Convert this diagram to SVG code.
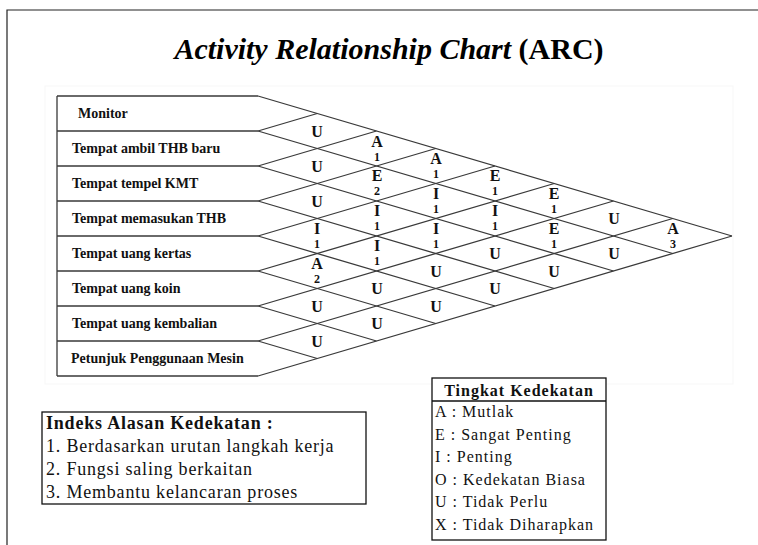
<svg xmlns="http://www.w3.org/2000/svg" width="758" height="545" viewBox="0 0 758 545">
<style>
.frame{stroke:#222;stroke-width:1.2;fill:none}
.ln{stroke:#3a3a3a;stroke-width:1.3;fill:none}
.lbl{font-family:"Liberation Serif",serif;font-weight:bold;font-size:14px;fill:#111}
.rl{font-family:"Liberation Serif",serif;font-weight:bold;font-size:16px;fill:#111;text-anchor:middle}
.rn{font-family:"Liberation Serif",serif;font-weight:bold;font-size:12px;fill:#111;text-anchor:middle}
.box{stroke:#111;stroke-width:1.3;fill:#fff}
.lg{font-family:"Liberation Serif",serif;font-size:18px;letter-spacing:0.8px;fill:#111}
.lg2{font-family:"Liberation Serif",serif;font-size:16px;letter-spacing:1px;fill:#111}
</style>
<rect width="758" height="545" fill="#fff"/>
<path class="frame" d="M7,545 V10 H758"/>
<text x="389" y="59" text-anchor="middle" font-family="Liberation Serif, serif" font-weight="bold" font-size="30" fill="#000"><tspan font-style="italic">Activity Relationship Chart</tspan> (ARC)</text>
<rect x="45" y="86" width="688" height="298" fill="none" stroke="#f7f7f7" stroke-width="1"/>
<g id="rows">
<path class="ln" d="M57,96 V376 M57,96 H258 M57,131 H258 M57,166 H258 M57,201 H258 M57,236 H258 M57,271 H258 M57,306 H258 M57,341 H258 M57,376 H258"/>
</g>
<g id="connectors">
<path class="ln" d="M258,96 L732,236 M258,131 L672.75,253.5 M258,166 L613.5,271 M258,201 L554.25,288.5 M258,236 L495,306 M258,271 L435.75,323.5 M258,306 L376.5,341 M258,341 L317.25,358.5"/>
<path class="ln" d="M258,131 L317.25,113.5 M258,166 L376.5,131 M258,201 L435.75,148.5 M258,236 L495,166 M258,271 L554.25,183.5 M258,306 L613.5,201 M258,341 L672.75,218.5 M258,376 L732,236"/>
</g>
<g id="node-monitor"><text class="lbl" x="78" y="118">Monitor</text></g>
<g id="node-thb-baru"><text class="lbl" x="72" y="153">Tempat ambil THB baru</text></g>
<g id="node-kmt"><text class="lbl" x="72" y="188">Tempat tempel KMT</text></g>
<g id="node-memasukan"><text class="lbl" x="72" y="223">Tempat memasukan THB</text></g>
<g id="node-kertas"><text class="lbl" x="72" y="258">Tempat uang kertas</text></g>
<g id="node-koin"><text class="lbl" x="72" y="293">Tempat uang koin</text></g>
<g id="node-kembalian"><text class="lbl" x="72" y="328">Tempat uang kembalian</text></g>
<g id="node-petunjuk"><text class="lbl" x="71" y="363">Petunjuk Penggunaan Mesin</text></g>
<g id="ratings">
<text class="rl" x="317" y="137">U</text>
<text class="rl" x="377" y="147">A</text><text class="rn" x="377" y="161">1</text>
<text class="rl" x="436" y="164">A</text><text class="rn" x="436" y="178">1</text>
<text class="rl" x="495" y="181">E</text><text class="rn" x="495" y="195">1</text>
<text class="rl" x="554" y="199">E</text><text class="rn" x="554" y="213">1</text>
<text class="rl" x="614" y="224">U</text>
<text class="rl" x="673" y="234">A</text><text class="rn" x="673" y="248">3</text>

<text class="rl" x="317" y="172">U</text>
<text class="rl" x="377" y="181">E</text><text class="rn" x="377" y="195">2</text>
<text class="rl" x="436" y="199">I</text><text class="rn" x="436" y="213">1</text>
<text class="rl" x="495" y="216">I</text><text class="rn" x="495" y="230">1</text>
<text class="rl" x="554" y="234">E</text><text class="rn" x="554" y="248">1</text>
<text class="rl" x="614" y="259">U</text>

<text class="rl" x="317" y="207">U</text>
<text class="rl" x="377" y="216">I</text><text class="rn" x="377" y="230">1</text>
<text class="rl" x="436" y="234">I</text><text class="rn" x="436" y="248">1</text>
<text class="rl" x="495" y="259">U</text>
<text class="rl" x="554" y="277">U</text>

<text class="rl" x="317" y="234">I</text><text class="rn" x="317" y="248">1</text>
<text class="rl" x="377" y="251">I</text><text class="rn" x="377" y="265">1</text>
<text class="rl" x="436" y="277">U</text>
<text class="rl" x="495" y="294">U</text>

<text class="rl" x="317" y="269">A</text><text class="rn" x="317" y="283">2</text>
<text class="rl" x="377" y="294">U</text>
<text class="rl" x="436" y="312">U</text>

<text class="rl" x="317" y="312">U</text>
<text class="rl" x="377" y="329">U</text>

<text class="rl" x="317" y="347">U</text>
</g>
<g id="legend-alasan">
<rect class="box" x="42" y="412" width="324" height="92"/>
<text class="lg" x="46" y="429" font-weight="bold">Indeks Alasan Kedekatan :</text>
<text class="lg" x="46" y="452">1. Berdasarkan urutan langkah kerja</text>
<text class="lg" x="46" y="475">2. Fungsi saling berkaitan</text>
<text class="lg" x="46" y="498">3. Membantu kelancaran proses</text>
</g>
<g id="legend-tingkat">
<rect class="box" x="432" y="378" width="174" height="162"/>
<line x1="432" y1="401" x2="606" y2="401" stroke="#111" stroke-width="1.3"/>
<text class="lg2" x="519" y="396" text-anchor="middle" font-weight="bold" letter-spacing="0.7">Tingkat Kedekatan</text>
<text class="lg2" x="435" y="417">A : Mutlak</text>
<text class="lg2" x="435" y="440">E : Sangat Penting</text>
<text class="lg2" x="435" y="462">I : Penting</text>
<text class="lg2" x="435" y="485">O : Kedekatan Biasa</text>
<text class="lg2" x="435" y="507">U : Tidak Perlu</text>
<text class="lg2" x="435" y="530">X : Tidak Diharapkan</text>
</g>
</svg>
